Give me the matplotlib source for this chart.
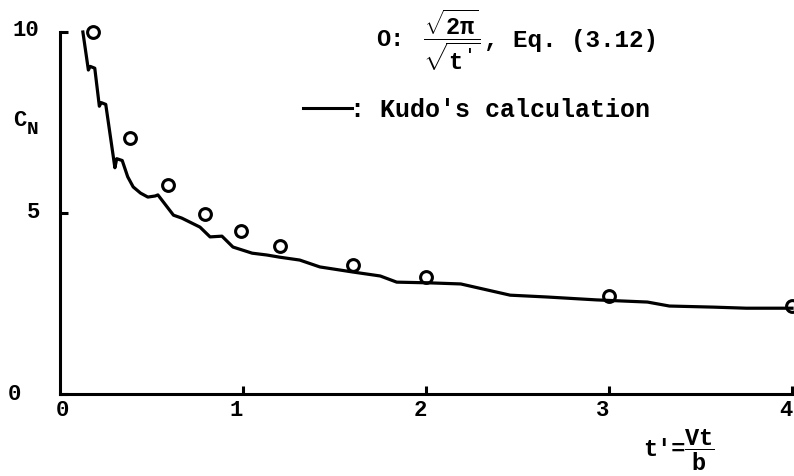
import numpy as np
import matplotlib
matplotlib.use("Agg")
import matplotlib.pyplot as plt
from matplotlib.lines import Line2D

plt.rcParams['font.family'] = ['Liberation Mono', 'DejaVu Sans']
plt.rcParams['mathtext.fontset'] = 'custom'
plt.rcParams['mathtext.rm'] = 'Liberation Mono:bold'
plt.rcParams['mathtext.it'] = 'Liberation Mono:bold'

# Eq. (3.12) points
eq_t = [0.18, 0.38, 0.59, 0.79, 0.99, 1.2, 1.6, 2.0, 3.0, 4.0]
eq_cn = [10.0, 7.07, 5.77, 4.97, 4.5, 4.09, 3.56, 3.23, 2.71, 2.43]

# Kudo's calculation
kudo_t = [0.125, 0.155, 0.165, 0.19, 0.215, 0.225, 0.25, 0.30, 0.31, 0.34,
          0.37, 0.40, 0.44, 0.48, 0.52, 0.535, 0.62, 0.665, 0.765, 0.82,
          0.885, 0.945, 1.05, 1.13, 1.2, 1.31, 1.42, 1.6, 1.75, 1.84, 2.02,
          2.19, 2.46, 2.66, 2.93, 3.21, 3.33, 3.57, 3.75, 4.0]
kudo_cn = [10.0, 8.95, 9.05, 9.0, 7.95, 8.05, 8.0, 6.25, 6.5, 6.45,
           6.0, 5.72, 5.55, 5.44, 5.47, 5.5, 4.94, 4.86, 4.61, 4.34,
           4.36, 4.06, 3.89, 3.84, 3.78, 3.7, 3.51, 3.37, 3.26, 3.09, 3.07,
           3.04, 2.73, 2.68, 2.6, 2.54, 2.43, 2.4, 2.37, 2.37]

x_ticks = [1, 2, 3, 4]
y_ticks = [0, 5, 10]

W, H = 794, 476
fig = plt.figure(figsize=(W / 100, H / 100), dpi=100)
ax = fig.add_axes([60 / W, 1 - 394 / H, 732 / W, 362 / H])


def px(x, y):
    # pixel position (from top-left) -> figure fraction
    return x / W, 1 - y / H


ax.plot(kudo_t, kudo_cn, color='black', lw=2.3, clip_on=False)
ax.plot(eq_t, eq_cn, 'o', ms=8.5, mfc='none', mec='black', mew=2.2, clip_on=False)

ax.set_xlim(0, 4)
ax.set_ylim(0, 10)
for s in ['top', 'right']:
    ax.spines[s].set_visible(False)
for s in ['left', 'bottom']:
    ax.spines[s].set_linewidth(2.2)

ax.set_xticks(x_ticks)
ax.set_xticklabels([])
ax.set_yticks(y_ticks)
ax.set_yticklabels([])
ax.tick_params(direction='in', length=6, width=2.2)

tick_font = dict(fontsize=16, fontweight='bold', ha='center', va='center')
# tick labels sit irregularly in the scan
for txt, (x, y) in zip(['0', '5', '10'], [(14, 395), (34, 213), (26, 30)]):
    fig.text(*px(x, y), txt, **tick_font)
for txt, (x, y) in zip(['0', '1', '2', '3', '4'],
                       [(62, 411), (236, 410), (420, 410), (603, 410), (786, 410)]):
    fig.text(*px(x, y), txt, **tick_font)

fig.text(*px(13, 120), 'C', fontsize=16, fontweight='bold', ha='left', va='center')
fig.text(*px(27, 130), 'N', fontsize=14, fontweight='bold', ha='left', va='center')

fig.text(*px(376, 40), 'O:', fontsize=17, fontweight='bold', ha='left', va='center')
fig.text(*px(423, 40), r"$\dfrac{\sqrt{2\pi}}{\sqrt{t'}}$", fontsize=17, ha='left', va='center')
fig.text(*px(484, 40), ', Eq. (3.12)', fontsize=17.5, fontweight='bold', ha='left', va='center')

fig.add_artist(Line2D([303 / W, 352 / W], [1 - 108 / H] * 2, color='black', lw=2.2))
fig.text(*px(350, 110), ": Kudo's calculation", fontsize=18, fontweight='bold',
         ha='left', va='center')

fig.text(*px(643, 450), "t'=", fontsize=17, fontweight='bold', ha='left', va='center')
fig.text(*px(684, 450), r"$\dfrac{\mathrm{Vt}}{\mathrm{b}}$", fontsize=17, ha='left', va='center')

fig.savefig('out.png', dpi=100)
